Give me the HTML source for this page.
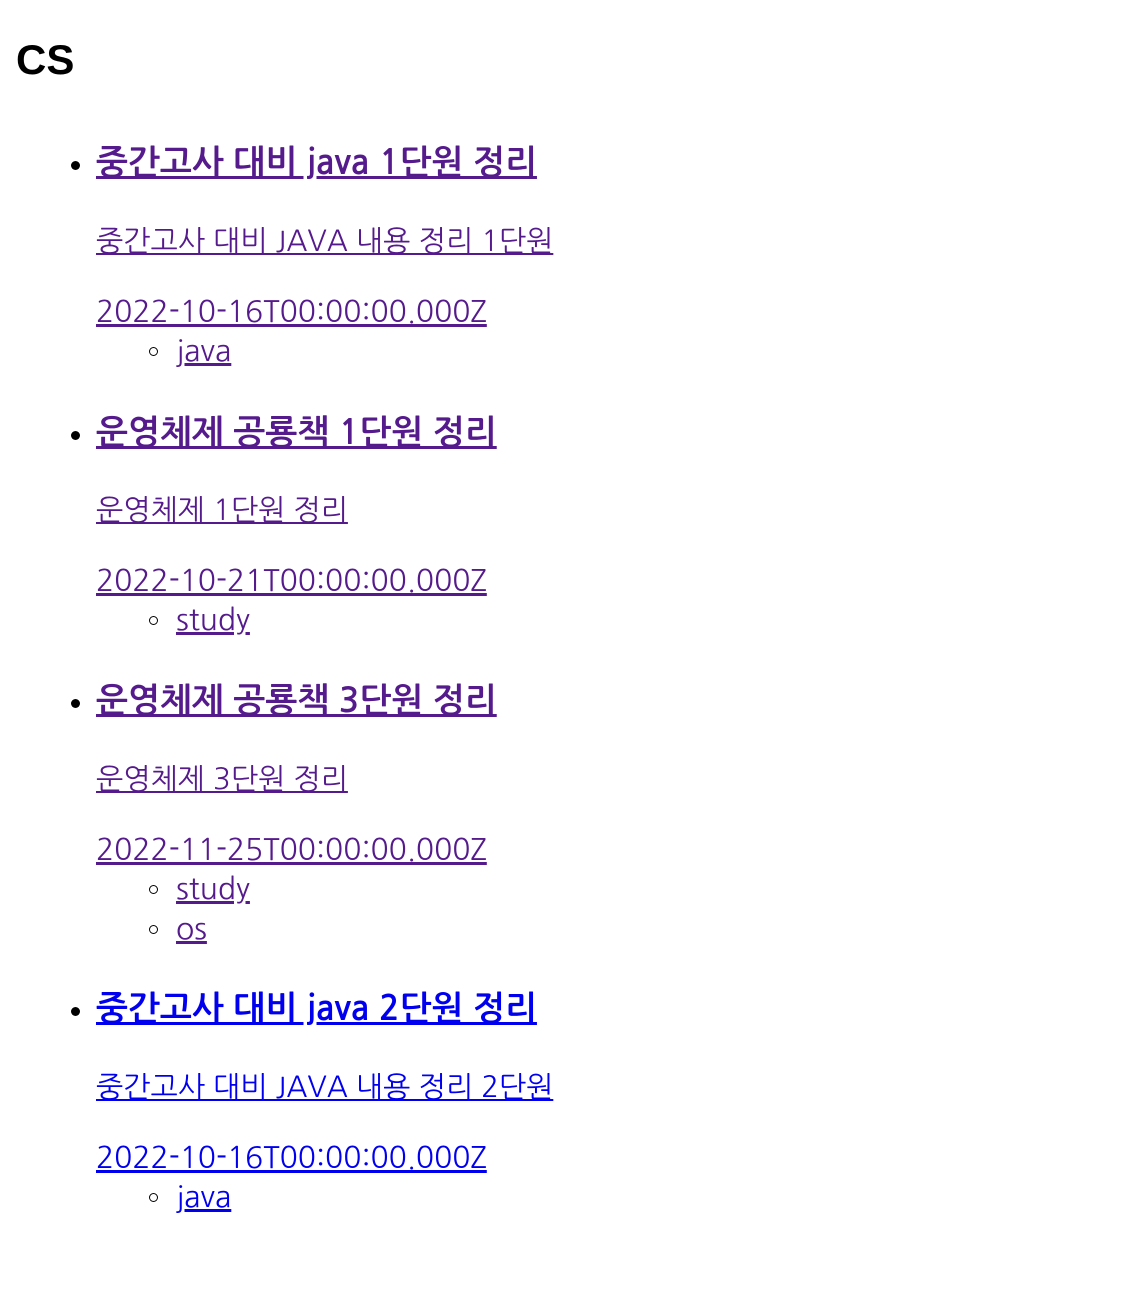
<!DOCTYPE html>
<html><head><meta charset="utf-8">
<style>
body{margin:0;width:1128px;height:1300px;background:#fff;font-family:"NanumGothic","Liberation Sans","Noto Sans CJK KR",sans-serif;position:relative;overflow:hidden}
.a{position:absolute;white-space:nowrap;line-height:40px;height:40px}
a{text-decoration:underline}
.v{color:#551a8b}.u{color:#0000ee}
h1{position:absolute;left:16px;top:38px;margin:0;font-family:"Liberation Sans",sans-serif;font-size:42px;line-height:44px;font-weight:bold}
.h{font-size:34px;font-weight:bold;left:96px}
.p{font-size:29px;left:96px}
.d{font-size:30px;left:96px}
.s{font-size:30px;left:176px}
.b{position:absolute;left:71px;width:9px;height:9px;border-radius:50%;background:#000}
.c{position:absolute;left:149px;width:9px;height:9px;border-radius:50%;border:1.5px solid #000;box-sizing:border-box}
</style></head><body>
<h1>CS</h1>

<div class="b" style="top:161px"></div>
<div class="a h" style="top:143px"><a class="v">중간고사 대비 java 1단원 정리</a></div>
<div class="a p" style="top:222px"><a class="v">중간고사 대비 JAVA 내용 정리 1단원</a></div>
<div class="a d" style="top:292px"><a class="v">2022-10-16T00:00:00.000Z</a></div>
<div class="c" style="top:347px"></div>
<div class="a s" style="top:331px"><a class="v">java</a></div>

<div class="b" style="top:431px"></div>
<div class="a h" style="top:413px"><a class="v">운영체제 공룡책 1단원 정리</a></div>
<div class="a p" style="top:491px"><a class="v">운영체제 1단원 정리</a></div>
<div class="a d" style="top:561px"><a class="v">2022-10-21T00:00:00.000Z</a></div>
<div class="c" style="top:616px"></div>
<div class="a s" style="top:600px"><a class="v">study</a></div>

<div class="b" style="top:699px"></div>
<div class="a h" style="top:681px"><a class="v">운영체제 공룡책 3단원 정리</a></div>
<div class="a p" style="top:760px"><a class="v">운영체제 3단원 정리</a></div>
<div class="a d" style="top:830px"><a class="v">2022-11-25T00:00:00.000Z</a></div>
<div class="c" style="top:885px"></div>
<div class="a s" style="top:869px"><a class="v">study</a></div>
<div class="c" style="top:925px"></div>
<div class="a s" style="top:909px"><a class="v">os</a></div>

<div class="b" style="top:1007px"></div>
<div class="a h" style="top:989px"><a class="u">중간고사 대비 java 2단원 정리</a></div>
<div class="a p" style="top:1068px"><a class="u">중간고사 대비 JAVA 내용 정리 2단원</a></div>
<div class="a d" style="top:1138px"><a class="u">2022-10-16T00:00:00.000Z</a></div>
<div class="c" style="top:1193px"></div>
<div class="a s" style="top:1177px"><a class="u">java</a></div>
</body></html>
